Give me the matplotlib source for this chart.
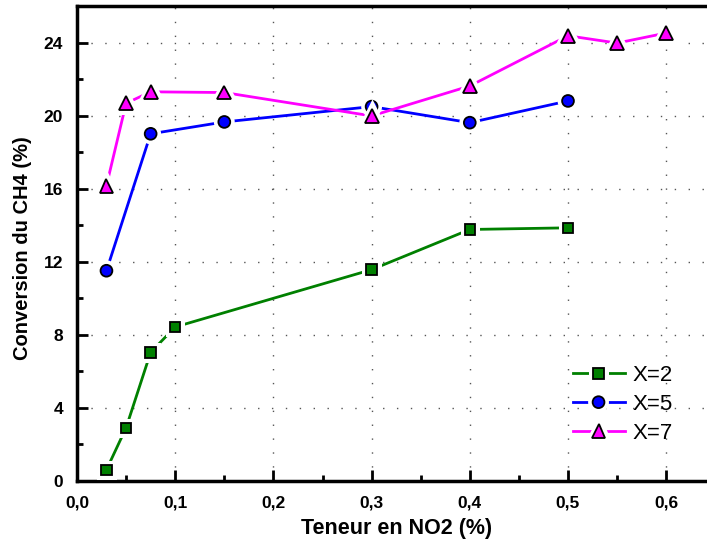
import matplotlib
matplotlib.use("Agg")
import matplotlib.pyplot as plt
import matplotlib.patheffects as pe
from matplotlib.legend_handler import HandlerTuple
from matplotlib.ticker import MultipleLocator, FuncFormatter

plt.rcParams["font.family"] = ["Liberation Sans", "DejaVu Sans"]

# teneur en NO2 (%) et conversion du CH4 (%)
x_2 = [0.03, 0.05, 0.075, 0.1, 0.3, 0.4, 0.5]
conv_2 = [0.6, 2.9, 7.03, 8.42, 11.56, 13.76, 13.85]

x_5 = [0.03, 0.075, 0.15, 0.3, 0.4, 0.5]
conv_5 = [11.5, 19.0, 19.65, 20.49, 19.61, 20.8]

x_7 = [0.03, 0.05, 0.075, 0.15, 0.3, 0.4, 0.5, 0.55, 0.6]
conv_7 = [16.16, 20.67, 21.3, 21.26, 19.98, 21.62, 24.37, 23.97, 24.52]

SERIES = [
    ("X=2", x_2, conv_2, "#008000", "s", 7.5),
    ("X=5", x_5, conv_5, "#0000ff", "o", 8.5),
    ("X=7", x_7, conv_7, "#ff00ff", "^", 10),
]

fig = plt.figure(figsize=(7.07, 5.39), dpi=100)
# l'axe depasse a droite de l'image (comme dans l'original rogne)
ax = fig.add_axes([77 / 707, 1 - 480.7 / 539, 638.3 / 707, 474.7 / 539])

# contour blanc autour des marqueurs -> la ligne s'arrete avant le symbole (style Origin)
gap = [pe.Stroke(linewidth=6.5, foreground="white"), pe.Normal()]

handles, labels = [], []
for label, xs, ys, color, marker, ms in SERIES:
    (ln,) = ax.plot(xs, ys, color=color, lw=2, zorder=3)
    (mk,) = ax.plot(xs, ys, ls="none", marker=marker, ms=ms, mfc=color, mec="black", mew=1.3,
                    zorder=5, path_effects=gap)
    handles.append((ln, mk))
    labels.append(label)

ax.set_xlim(0, 0.65)
ax.set_ylim(0, 26)
ax.xaxis.set_major_locator(MultipleLocator(0.1))
ax.xaxis.set_minor_locator(MultipleLocator(0.05))
ax.yaxis.set_major_locator(MultipleLocator(4))
ax.yaxis.set_minor_locator(MultipleLocator(2))
ax.xaxis.set_major_formatter(FuncFormatter(lambda v, p: f"{v:.1f}".replace(".", ",")))

ax.tick_params(which="both", direction="in", width=2, labelsize=12.5)
ax.tick_params(which="major", length=8)
ax.tick_params(which="minor", length=4)
ax.tick_params(axis="x", pad=11)
ax.tick_params(axis="y", pad=10)
for t in ax.get_xticklabels() + ax.get_yticklabels():
    t.set_fontweight("bold")
for s in ax.spines.values():
    s.set_linewidth(2.5)

ax.grid(True, which="major", color="#555555", ls=(0, (1, 9)), lw=1)
ax.set_axisbelow(True)

ax.set_xlabel("Teneur en NO2 (%)", fontsize=15.5, fontweight="bold", labelpad=5)
ax.set_ylabel("Conversion du CH4 (%)", fontsize=14.5, fontweight="bold")
ax.yaxis.set_label_coords(-0.071, 0.49)

leg = ax.legend(handles, labels, loc="lower left", bbox_to_anchor=(0.745, 0.036), frameon=False,
                fontsize=16, handlelength=2.34, handletextpad=0.36, labelspacing=0.345,
                handler_map={tuple: HandlerTuple(ndivide=1, pad=0)})

fig.savefig("out.png", dpi=100)
